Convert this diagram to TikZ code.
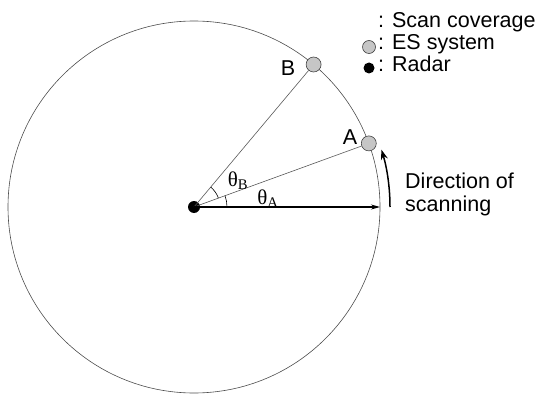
\documentclass[tikz,border=0pt]{standalone}
\usepackage{fontspec}
\setmainfont{Liberation Sans}
\newfontfamily\thetafont{Liberation Serif}
\usetikzlibrary{arrows.meta}
\tikzset{
  esdot/.style={circle, draw=black!75, line width=0.6pt, fill=gray!45, minimum size=15pt, inner sep=0pt},
  radardot/.style={circle, fill=black, minimum size=12pt, inner sep=0pt},
  ray/.style={draw=gray!70!black, line width=0.6pt},
  mainarrow/.style={draw=black, line width=1.1pt, -{Stealth[length=9pt,width=5pt]}},
  anglearc/.style={draw=black, line width=0.6pt},
  legtext/.style={anchor=base west, inner sep=0pt},
  thetalabel/.style={inner sep=0pt, font=\fontsize{21}{25}\thetafont}
}
\begin{document}
\begin{tikzpicture}[x=1pt,y=1pt, font=\fontsize{21.5}{25}\selectfont]
\useasboundingbox (0,0) rectangle (537,394);
\coordinate (C) at (194,187);
\draw[draw=gray!60!black, line width=0.6pt] (C) circle[radius=186];
\node[radardot] (R) at (C) {};
\node[esdot] (A) at (368.8,250.6) {};
\node[esdot] (B) at (313.6,329.5) {};
\coordinate (E) at (380,187);
\draw[ray] (R.center) -- (A);
\draw[ray] (R.center) -- (B);
\draw[mainarrow] (R.center) -- (E);
\draw[anglearc] ([shift={(20:26)}]C) arc[start angle=20, end angle=50, radius=26];
\draw[anglearc] ([shift={(0:33)}]C) arc[start angle=0, end angle=20, radius=33];
\node[thetalabel] (tB) at (238,213) {θ\textsubscript{B}};
\node[thetalabel] (tA) at (268,195) {θ\textsubscript{A}};
\node (lB) at (288,326) {B};
\node (lA) at (350,257) {A};
\draw[draw=black, line width=1.5pt, -{Stealth[length=10pt,width=7pt]}] ([shift={(0:196)}]C) arc[start angle=0, end angle=17, radius=196];
\node[anchor=base west, inner sep=0pt] (dir1) at (405,206) {Direction of};
\node[anchor=base west, inner sep=0pt] (dir2) at (405,183) {scanning};
% legend
\node[legtext] (l1) at (378,366) {: Scan coverage};
\node[legtext] (l2) at (378,344) {: ES system};
\node[legtext] (l3) at (378,322) {: Radar};
\node[esdot, minimum size=13pt] (g2) at (369,347) {};
\node[radardot, minimum size=11pt] (g3) at (369,326) {};
\end{tikzpicture}
\end{document}
